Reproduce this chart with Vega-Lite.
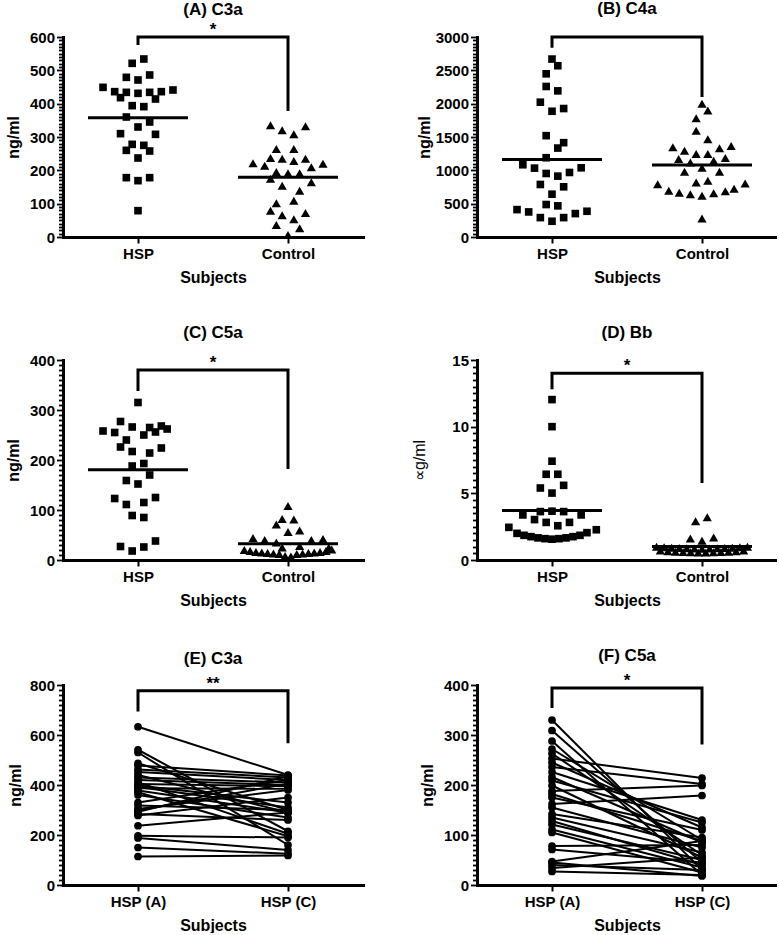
{
  "$schema": "https://vega.github.io/schema/vega-lite/v6.json",
  "padding": {"left": 5, "top": 0, "right": 0, "bottom": 0},
  "columns": 2,
  "spacing": {"row": 39, "column": 48},
  "config": {
    "font": "Liberation Sans",
    "view": {"stroke": null},
    "title": {"font": "Liberation Sans", "fontSize": 17, "fontWeight": "bold", "color": "black", "anchor": "middle", "frame": "group"},
    "axis": {"grid": false, "domainColor": "black", "domainWidth": 3, "domainCap": "square", "tickColor": "black", "tickWidth": 2, "labelColor": "black", "labelFont": "Liberation Sans", "labelFontWeight": "bold", "labelFontSize": 15, "titleFont": "Liberation Sans", "titleFontWeight": "bold", "titleFontSize": 16, "titleColor": "black"},
    "axisX": {"labelAngle": 0, "tickSize": 6, "labelPadding": 3, "titlePadding": 8},
    "axisY": {"labelOverlap": false, "labelPadding": 2, "titleFontSize": 16, "titleBaseline": "middle", "tickWidth": 1.8}
  },
  "concat": [
    {
      "width": 300, "height": 200,
      "title": {"text": "(A) C3a", "offset": 2},
      "data": {"values": [
        {"group":"HSP","value":534,"jit":1},{"group":"HSP","value":521,"jit":-1},{"group":"HSP","value":479,"jit":-2},{"group":"HSP","value":486,"jit":2},{"group":"HSP","value":471,"jit":0},{"group":"HSP","value":449,"jit":-6},{"group":"HSP","value":436,"jit":-4},{"group":"HSP","value":434,"jit":-2},{"group":"HSP","value":431,"jit":0},{"group":"HSP","value":434,"jit":2},{"group":"HSP","value":436,"jit":4},{"group":"HSP","value":441,"jit":6},{"group":"HSP","value":418,"jit":-3},{"group":"HSP","value":414,"jit":3},{"group":"HSP","value":394,"jit":-1},{"group":"HSP","value":391,"jit":1},{"group":"HSP","value":360,"jit":-2},{"group":"HSP","value":345,"jit":2},{"group":"HSP","value":330,"jit":0},{"group":"HSP","value":310,"jit":-3},{"group":"HSP","value":308,"jit":3},{"group":"HSP","value":278,"jit":-1},{"group":"HSP","value":275,"jit":1},{"group":"HSP","value":260,"jit":-2},{"group":"HSP","value":258,"jit":2},{"group":"HSP","value":237,"jit":0},{"group":"HSP","value":178,"jit":-2},{"group":"HSP","value":178,"jit":2},{"group":"HSP","value":169,"jit":0},{"group":"HSP","value":79,"jit":0},
        {"group":"Control","value":335,"jit":-3},{"group":"Control","value":332,"jit":3},{"group":"Control","value":320,"jit":-1},{"group":"Control","value":308,"jit":1},{"group":"Control","value":264,"jit":-2},{"group":"Control","value":264,"jit":1},{"group":"Control","value":237,"jit":-3},{"group":"Control","value":235,"jit":-1},{"group":"Control","value":228,"jit":1},{"group":"Control","value":235,"jit":3},{"group":"Control","value":221,"jit":-6},{"group":"Control","value":214,"jit":-4},{"group":"Control","value":209,"jit":4},{"group":"Control","value":220,"jit":6},{"group":"Control","value":195,"jit":-2},{"group":"Control","value":191,"jit":0},{"group":"Control","value":191,"jit":2},{"group":"Control","value":175,"jit":-3},{"group":"Control","value":164,"jit":4},{"group":"Control","value":154,"jit":-1},{"group":"Control","value":139,"jit":2},{"group":"Control","value":109,"jit":1},{"group":"Control","value":101,"jit":-2},{"group":"Control","value":79,"jit":-3},{"group":"Control","value":72,"jit":3},{"group":"Control","value":65,"jit":-1},{"group":"Control","value":53,"jit":1},{"group":"Control","value":36,"jit":-2},{"group":"Control","value":26,"jit":2},{"group":"Control","value":6,"jit":0}
      ]},
      "layer": [
        {
          "mark": {"type": "point", "filled": true, "opacity": 1, "color": "black"},
          "encoding": {
            "x": {"field": "group", "type": "nominal", "scale": {"type": "point", "domain": ["HSP", "Control"], "padding": 0.5}, "axis": {"title": "Subjects"}},
            "xOffset": {"field": "jit", "type": "quantitative", "scale": {"domain": [-10, 10], "range": [-58.3, 58.3]}},
            "y": {"field": "value", "type": "quantitative", "scale": {"domain": [0, 600], "nice": false}, "axis": {"title": "ng/ml", "tickCount": 60, "labelExpr": "datum.value % 100 === 0 ? format(datum.value, 'd') : ''", "tickSize": {"condition": {"test": "datum.value % 100 === 0", "value": 6.5}, "value": 4.5}, "titleX": -50}},
            "shape": {"field": "group", "type": "nominal", "scale": {"domain": ["HSP", "Control"], "range": ["square", "triangle-up"]}, "legend": null},
            "size": {"field": "group", "type": "nominal", "scale": {"domain": ["HSP", "Control"], "range": [58, 85]}, "legend": null}
          }
        },
        {
          "mark": {"type": "tick", "orient": "horizontal", "size": 100, "thickness": 3, "color": "black"},
          "encoding": {"x": {"field": "group", "type": "nominal"}, "y": {"field": "value", "aggregate": "mean", "type": "quantitative", "title": "ng/ml"}}
        },
        {
          "data": {"values": [{"group":"HSP","value":576,"k":1},{"group":"HSP","value":600,"k":2},{"group":"Control","value":600,"k":3},{"group":"Control","value":378,"k":4}]},
          "mark": {"type": "line", "color": "black", "strokeWidth": 3, "strokeJoin": "miter"},
          "encoding": {"x": {"field": "group", "type": "nominal"}, "y": {"field": "value", "type": "quantitative", "title": "ng/ml"}, "order": {"field": "k"}}
        },
        {
          "data": {"values": [{"group":"HSP","value":600,"label":"*"}]},
          "mark": {"type": "text", "dx": 75, "dy": -2, "baseline": "alphabetic", "fontSize": 17, "fontWeight": "bold", "color": "black"},
          "encoding": {"x": {"field": "group", "type": "nominal"}, "y": {"field": "value", "type": "quantitative", "title": "ng/ml"}, "text": {"field": "label"}}
        }
      ]
    },
    {
      "width": 300, "height": 200,
      "title": {"text": "(B) C4a", "offset": 12},
      "data": {"values": [
        {"group":"HSP","value":2669,"jit":0},{"group":"HSP","value":2569,"jit":1},{"group":"HSP","value":2448,"jit":-1},{"group":"HSP","value":2258,"jit":-1},{"group":"HSP","value":2192,"jit":1},{"group":"HSP","value":2022,"jit":-2},{"group":"HSP","value":1927,"jit":2},{"group":"HSP","value":1886,"jit":0},{"group":"HSP","value":1520,"jit":-1},{"group":"HSP","value":1415,"jit":2},{"group":"HSP","value":1334,"jit":1},{"group":"HSP","value":1189,"jit":-1},{"group":"HSP","value":1084,"jit":-5},{"group":"HSP","value":1033,"jit":-3},{"group":"HSP","value":953,"jit":-1},{"group":"HSP","value":913,"jit":1},{"group":"HSP","value":968,"jit":3},{"group":"HSP","value":1038,"jit":5},{"group":"HSP","value":788,"jit":-2},{"group":"HSP","value":753,"jit":2},{"group":"HSP","value":642,"jit":0},{"group":"HSP","value":487,"jit":-1},{"group":"HSP","value":467,"jit":1},{"group":"HSP","value":411,"jit":-6},{"group":"HSP","value":376,"jit":-4},{"group":"HSP","value":291,"jit":-2},{"group":"HSP","value":236,"jit":0},{"group":"HSP","value":291,"jit":2},{"group":"HSP","value":351,"jit":4},{"group":"HSP","value":386,"jit":6},
        {"group":"Control","value":1997,"jit":0},{"group":"Control","value":1896,"jit":1},{"group":"Control","value":1781,"jit":-1},{"group":"Control","value":1595,"jit":-1},{"group":"Control","value":1465,"jit":1},{"group":"Control","value":1345,"jit":-5},{"group":"Control","value":1294,"jit":-3},{"group":"Control","value":1244,"jit":-1},{"group":"Control","value":1244,"jit":1},{"group":"Control","value":1330,"jit":3},{"group":"Control","value":1365,"jit":5},{"group":"Control","value":1169,"jit":-4},{"group":"Control","value":1119,"jit":-2},{"group":"Control","value":1144,"jit":2},{"group":"Control","value":1184,"jit":4},{"group":"Control","value":1038,"jit":0},{"group":"Control","value":978,"jit":-3},{"group":"Control","value":978,"jit":3},{"group":"Control","value":818,"jit":-1},{"group":"Control","value":843,"jit":1},{"group":"Control","value":793,"jit":-7.6},{"group":"Control","value":803,"jit":7.4},{"group":"Control","value":692,"jit":-5.7},{"group":"Control","value":662,"jit":-3.9},{"group":"Control","value":642,"jit":-2},{"group":"Control","value":617,"jit":0},{"group":"Control","value":657,"jit":2},{"group":"Control","value":687,"jit":4},{"group":"Control","value":722,"jit":5.5},{"group":"Control","value":276,"jit":0}
      ]},
      "layer": [
        {
          "mark": {"type": "point", "filled": true, "opacity": 1, "color": "black"},
          "encoding": {
            "x": {"field": "group", "type": "nominal", "scale": {"type": "point", "domain": ["HSP", "Control"], "padding": 0.5}, "axis": {"title": "Subjects"}},
            "xOffset": {"field": "jit", "type": "quantitative", "scale": {"domain": [-10, 10], "range": [-58.3, 58.3]}},
            "y": {"field": "value", "type": "quantitative", "scale": {"domain": [0, 3000], "nice": false}, "axis": {"title": "ng/ml", "tickCount": 60, "labelExpr": "datum.value % 500 === 0 ? format(datum.value, 'd') : ''", "tickSize": {"condition": {"test": "datum.value % 500 === 0", "value": 6.5}, "value": 4.5}, "titleX": -53}},
            "shape": {"field": "group", "type": "nominal", "scale": {"domain": ["HSP", "Control"], "range": ["square", "triangle-up"]}, "legend": null},
            "size": {"field": "group", "type": "nominal", "scale": {"domain": ["HSP", "Control"], "range": [58, 85]}, "legend": null}
          }
        },
        {
          "mark": {"type": "tick", "orient": "horizontal", "size": 100, "thickness": 3, "color": "black"},
          "encoding": {"x": {"field": "group", "type": "nominal"}, "y": {"field": "value", "aggregate": "mean", "type": "quantitative", "title": "ng/ml"}}
        },
        {
          "data": {"values": [{"group":"HSP","value":2839,"k":1},{"group":"HSP","value":3000,"k":2},{"group":"Control","value":3000,"k":3},{"group":"Control","value":2100,"k":4}]},
          "mark": {"type": "line", "color": "black", "strokeWidth": 3, "strokeJoin": "miter"},
          "encoding": {"x": {"field": "group", "type": "nominal"}, "y": {"field": "value", "type": "quantitative", "title": "ng/ml"}, "order": {"field": "k"}}
        }
      ]
    },
    {
      "width": 300, "height": 200,
      "title": {"text": "(C) C5a", "offset": 11},
      "data": {"values": [
        {"group":"HSP","value":315,"jit":0},{"group":"HSP","value":277,"jit":-3},{"group":"HSP","value":266,"jit":-1},{"group":"HSP","value":258,"jit":-6},{"group":"HSP","value":255,"jit":-4},{"group":"HSP","value":265,"jit":2},{"group":"HSP","value":268,"jit":4},{"group":"HSP","value":262,"jit":5},{"group":"HSP","value":256,"jit":3},{"group":"HSP","value":250,"jit":1},{"group":"HSP","value":240,"jit":-2},{"group":"HSP","value":226,"jit":-3},{"group":"HSP","value":217,"jit":-1},{"group":"HSP","value":214,"jit":2},{"group":"HSP","value":224,"jit":4},{"group":"HSP","value":188,"jit":-1},{"group":"HSP","value":193,"jit":1},{"group":"HSP","value":170,"jit":2},{"group":"HSP","value":159,"jit":-2},{"group":"HSP","value":152,"jit":0},{"group":"HSP","value":123,"jit":-4},{"group":"HSP","value":111,"jit":-2},{"group":"HSP","value":115,"jit":1},{"group":"HSP","value":125,"jit":3},{"group":"HSP","value":89,"jit":-1},{"group":"HSP","value":85,"jit":1},{"group":"HSP","value":27,"jit":-3},{"group":"HSP","value":18,"jit":-1},{"group":"HSP","value":26,"jit":1},{"group":"HSP","value":38,"jit":3},
        {"group":"Control","value":108,"jit":0},{"group":"Control","value":82,"jit":-1},{"group":"Control","value":81,"jit":1},{"group":"Control","value":71,"jit":-2},{"group":"Control","value":56,"jit":0},{"group":"Control","value":59,"jit":2},{"group":"Control","value":44,"jit":-6},{"group":"Control","value":40,"jit":-4},{"group":"Control","value":35,"jit":-2},{"group":"Control","value":40,"jit":4},{"group":"Control","value":42,"jit":6},{"group":"Control","value":25,"jit":-1},{"group":"Control","value":28,"jit":2},{"group":"Control","value":25,"jit":7},
        {"group":"Control","value":20,"jit":-7.5},{"group":"Control","value":18,"jit":-6.5},{"group":"Control","value":16,"jit":-5.5},{"group":"Control","value":15,"jit":-4.5},{"group":"Control","value":14,"jit":-3.5},{"group":"Control","value":13,"jit":-2.5},{"group":"Control","value":12,"jit":-1.5},{"group":"Control","value":8,"jit":-0.5},{"group":"Control","value":7,"jit":0.5},{"group":"Control","value":12,"jit":1.5},{"group":"Control","value":13,"jit":2.5},{"group":"Control","value":14,"jit":3.5},{"group":"Control","value":15,"jit":4.5},{"group":"Control","value":16,"jit":5.5},{"group":"Control","value":18,"jit":6.5},{"group":"Control","value":21,"jit":7.5}
      ]},
      "layer": [
        {
          "mark": {"type": "point", "filled": true, "opacity": 1, "color": "black"},
          "encoding": {
            "x": {"field": "group", "type": "nominal", "scale": {"type": "point", "domain": ["HSP", "Control"], "padding": 0.5}, "axis": {"title": "Subjects"}},
            "xOffset": {"field": "jit", "type": "quantitative", "scale": {"domain": [-10, 10], "range": [-58.3, 58.3]}},
            "y": {"field": "value", "type": "quantitative", "scale": {"domain": [0, 400], "nice": false}, "axis": {"title": "ng/ml", "tickCount": 40, "labelExpr": "datum.value % 100 === 0 ? format(datum.value, 'd') : ''", "tickSize": {"condition": {"test": "datum.value % 100 === 0", "value": 6.5}, "value": 4.5}, "titleX": -50}},
            "shape": {"field": "group", "type": "nominal", "scale": {"domain": ["HSP", "Control"], "range": ["square", "triangle-up"]}, "legend": null},
            "size": {"field": "group", "type": "nominal", "scale": {"domain": ["HSP", "Control"], "range": [58, 85]}, "legend": null}
          }
        },
        {
          "mark": {"type": "tick", "orient": "horizontal", "size": 100, "thickness": 3, "color": "black"},
          "encoding": {"x": {"field": "group", "type": "nominal"}, "y": {"field": "value", "aggregate": "mean", "type": "quantitative", "title": "ng/ml"}}
        },
        {
          "data": {"values": [{"group":"HSP","value":338,"k":1},{"group":"HSP","value":380,"k":2},{"group":"Control","value":380,"k":3},{"group":"Control","value":182,"k":4}]},
          "mark": {"type": "line", "color": "black", "strokeWidth": 3, "strokeJoin": "miter"},
          "encoding": {"x": {"field": "group", "type": "nominal"}, "y": {"field": "value", "type": "quantitative", "title": "ng/ml"}, "order": {"field": "k"}}
        },
        {
          "data": {"values": [{"group":"HSP","value":380,"label":"*"}]},
          "mark": {"type": "text", "dx": 75, "dy": -2, "baseline": "alphabetic", "fontSize": 17, "fontWeight": "bold", "color": "black"},
          "encoding": {"x": {"field": "group", "type": "nominal"}, "y": {"field": "value", "type": "quantitative", "title": "ng/ml"}, "text": {"field": "label"}}
        }
      ]
    },
    {
      "width": 300, "height": 200,
      "title": {"text": "(D) Bb", "offset": 11},
      "data": {"values": [
        {"group":"HSP","value":12.03,"jit":0},{"group":"HSP","value":10.0,"jit":0},{"group":"HSP","value":7.41,"jit":0},{"group":"HSP","value":6.43,"jit":-1},{"group":"HSP","value":6.43,"jit":1},{"group":"HSP","value":5.4,"jit":-2},{"group":"HSP","value":5.6,"jit":2},{"group":"HSP","value":5.02,"jit":0},{"group":"HSP","value":3.63,"jit":-2},{"group":"HSP","value":3.66,"jit":0},{"group":"HSP","value":3.63,"jit":2},{"group":"HSP","value":3.38,"jit":-5},{"group":"HSP","value":3.38,"jit":5},{"group":"HSP","value":3.03,"jit":-3},{"group":"HSP","value":2.82,"jit":-1},{"group":"HSP","value":2.82,"jit":3},{"group":"HSP","value":2.57,"jit":1},{"group":"HSP","value":2.45,"jit":-7.4},{"group":"HSP","value":2.27,"jit":7.6},{"group":"HSP","value":2.0,"jit":-6},{"group":"HSP","value":1.85,"jit":-4.8},{"group":"HSP","value":1.75,"jit":-3.6},{"group":"HSP","value":1.66,"jit":-2.4},{"group":"HSP","value":1.6,"jit":-1.2},{"group":"HSP","value":1.56,"jit":0},{"group":"HSP","value":1.6,"jit":1.2},{"group":"HSP","value":1.66,"jit":2.4},{"group":"HSP","value":1.75,"jit":3.6},{"group":"HSP","value":1.85,"jit":4.8},{"group":"HSP","value":2.05,"jit":6},
        {"group":"Control","value":2.9,"jit":-1.1},{"group":"Control","value":3.2,"jit":0.9},{"group":"Control","value":1.61,"jit":-2},{"group":"Control","value":1.69,"jit":2},{"group":"Control","value":1.44,"jit":0},
        {"group":"Control","value":1.0,"jit":-7.8},{"group":"Control","value":0.95,"jit":-6.5},{"group":"Control","value":0.92,"jit":-5.2},{"group":"Control","value":0.9,"jit":-3.9},{"group":"Control","value":0.88,"jit":-2.6},{"group":"Control","value":0.86,"jit":-1.3},{"group":"Control","value":0.85,"jit":0},{"group":"Control","value":0.86,"jit":1.3},{"group":"Control","value":0.88,"jit":2.6},{"group":"Control","value":0.9,"jit":3.9},{"group":"Control","value":0.92,"jit":5.2},{"group":"Control","value":0.95,"jit":6.5},{"group":"Control","value":1.0,"jit":7.8},
        {"group":"Control","value":0.72,"jit":-7.15},{"group":"Control","value":0.66,"jit":-5.85},{"group":"Control","value":0.62,"jit":-4.55},{"group":"Control","value":0.6,"jit":-3.25},{"group":"Control","value":0.58,"jit":-1.95},{"group":"Control","value":0.56,"jit":-0.65},{"group":"Control","value":0.56,"jit":0.65},{"group":"Control","value":0.58,"jit":1.95},{"group":"Control","value":0.6,"jit":3.25},{"group":"Control","value":0.62,"jit":4.55},{"group":"Control","value":0.66,"jit":5.85},{"group":"Control","value":0.72,"jit":7.15}
      ]},
      "layer": [
        {
          "mark": {"type": "point", "filled": true, "opacity": 1, "color": "black"},
          "encoding": {
            "x": {"field": "group", "type": "nominal", "scale": {"type": "point", "domain": ["HSP", "Control"], "padding": 0.5}, "axis": {"title": "Subjects"}},
            "xOffset": {"field": "jit", "type": "quantitative", "scale": {"domain": [-10, 10], "range": [-58.3, 58.3]}},
            "y": {"field": "value", "type": "quantitative", "scale": {"domain": [0, 15], "nice": false}, "axis": {"title": "∝g/ml", "titleFontWeight": "normal", "tickCount": 30, "labelExpr": "datum.value % 5 === 0 ? format(datum.value, 'd') : ''", "tickSize": {"condition": {"test": "datum.value % 5 === 0", "value": 6.5}, "value": 4.5}, "titleX": -58}},
            "shape": {"field": "group", "type": "nominal", "scale": {"domain": ["HSP", "Control"], "range": ["square", "triangle-up"]}, "legend": null},
            "size": {"field": "group", "type": "nominal", "scale": {"domain": ["HSP", "Control"], "range": [58, 85]}, "legend": null}
          }
        },
        {
          "mark": {"type": "tick", "orient": "horizontal", "size": 100, "thickness": 3, "color": "black"},
          "encoding": {"x": {"field": "group", "type": "nominal"}, "y": {"field": "value", "aggregate": "mean", "type": "quantitative", "title": "∝g/ml"}}
        },
        {
          "data": {"values": [{"group":"HSP","value":12.8,"k":1},{"group":"HSP","value":14.0,"k":2},{"group":"Control","value":14.0,"k":3},{"group":"Control","value":5.78,"k":4}]},
          "mark": {"type": "line", "color": "black", "strokeWidth": 3, "strokeJoin": "miter"},
          "encoding": {"x": {"field": "group", "type": "nominal"}, "y": {"field": "value", "type": "quantitative", "title": "∝g/ml"}, "order": {"field": "k"}}
        },
        {
          "data": {"values": [{"group":"HSP","value":14.0,"label":"*"}]},
          "mark": {"type": "text", "dx": 75, "dy": -2, "baseline": "alphabetic", "fontSize": 17, "fontWeight": "bold", "color": "black"},
          "encoding": {"x": {"field": "group", "type": "nominal"}, "y": {"field": "value", "type": "quantitative", "title": "∝g/ml"}, "text": {"field": "label"}}
        }
      ]
    },
    {
      "width": 300, "height": 200,
      "title": {"text": "(E) C3a", "offset": 7},
      "data": {"values": [
        {"id":1,"group":"HSP (A)","value":633},{"id":1,"group":"HSP (C)","value":440},
        {"id":2,"group":"HSP (A)","value":541},{"id":2,"group":"HSP (C)","value":215},
        {"id":3,"group":"HSP (A)","value":530},{"id":3,"group":"HSP (C)","value":160},
        {"id":4,"group":"HSP (A)","value":487},{"id":4,"group":"HSP (C)","value":300},
        {"id":5,"group":"HSP (A)","value":478},{"id":5,"group":"HSP (C)","value":438},
        {"id":6,"group":"HSP (A)","value":462},{"id":6,"group":"HSP (C)","value":430},
        {"id":7,"group":"HSP (A)","value":452},{"id":7,"group":"HSP (C)","value":420},
        {"id":8,"group":"HSP (A)","value":440},{"id":8,"group":"HSP (C)","value":290},
        {"id":9,"group":"HSP (A)","value":430},{"id":9,"group":"HSP (C)","value":410},
        {"id":10,"group":"HSP (A)","value":420},{"id":10,"group":"HSP (C)","value":400},
        {"id":11,"group":"HSP (A)","value":411},{"id":11,"group":"HSP (C)","value":205},
        {"id":12,"group":"HSP (A)","value":404},{"id":12,"group":"HSP (C)","value":395},
        {"id":13,"group":"HSP (A)","value":398},{"id":13,"group":"HSP (C)","value":330},
        {"id":14,"group":"HSP (A)","value":392},{"id":14,"group":"HSP (C)","value":310},
        {"id":15,"group":"HSP (A)","value":387},{"id":15,"group":"HSP (C)","value":385},
        {"id":16,"group":"HSP (A)","value":378},{"id":16,"group":"HSP (C)","value":290},
        {"id":17,"group":"HSP (A)","value":371},{"id":17,"group":"HSP (C)","value":195},
        {"id":18,"group":"HSP (A)","value":360},{"id":18,"group":"HSP (C)","value":270},
        {"id":19,"group":"HSP (A)","value":330},{"id":19,"group":"HSP (C)","value":420},
        {"id":20,"group":"HSP (A)","value":318},{"id":20,"group":"HSP (C)","value":300},
        {"id":21,"group":"HSP (A)","value":304},{"id":21,"group":"HSP (C)","value":380},
        {"id":22,"group":"HSP (A)","value":298},{"id":22,"group":"HSP (C)","value":405},
        {"id":23,"group":"HSP (A)","value":293},{"id":23,"group":"HSP (C)","value":435},
        {"id":24,"group":"HSP (A)","value":284},{"id":24,"group":"HSP (C)","value":260},
        {"id":25,"group":"HSP (A)","value":278},{"id":25,"group":"HSP (C)","value":350},
        {"id":26,"group":"HSP (A)","value":237},{"id":26,"group":"HSP (C)","value":290},
        {"id":27,"group":"HSP (A)","value":197},{"id":27,"group":"HSP (C)","value":190},
        {"id":28,"group":"HSP (A)","value":188},{"id":28,"group":"HSP (C)","value":140},
        {"id":29,"group":"HSP (A)","value":150},{"id":29,"group":"HSP (C)","value":125},
        {"id":30,"group":"HSP (A)","value":114},{"id":30,"group":"HSP (C)","value":118}
      ]},
      "layer": [
        {
          "mark": {"type": "line", "color": "black", "strokeWidth": 2},
          "encoding": {
            "x": {"field": "group", "type": "nominal", "scale": {"type": "point", "domain": ["HSP (A)", "HSP (C)"], "padding": 0.5}, "axis": {"title": "Subjects"}},
            "y": {"field": "value", "type": "quantitative", "scale": {"domain": [0, 800], "nice": false}, "axis": {"title": "ng/ml", "tickCount": 40, "labelExpr": "datum.value % 200 === 0 ? format(datum.value, 'd') : ''", "tickSize": {"condition": {"test": "datum.value % 200 === 0", "value": 6.5}, "value": 4.5}, "titleX": -48}},
            "detail": {"field": "id", "type": "nominal"}
          }
        },
        {
          "mark": {"type": "circle", "color": "black", "opacity": 1, "size": 60},
          "encoding": {"x": {"field": "group", "type": "nominal"}, "y": {"field": "value", "type": "quantitative", "title": "ng/ml"}}
        },
        {
          "data": {"values": [{"group":"HSP (A)","value":694,"k":1},{"group":"HSP (A)","value":777,"k":2},{"group":"HSP (C)","value":777,"k":3},{"group":"HSP (C)","value":567,"k":4}]},
          "mark": {"type": "line", "color": "black", "strokeWidth": 3, "strokeJoin": "miter"},
          "encoding": {"x": {"field": "group", "type": "nominal"}, "y": {"field": "value", "type": "quantitative", "title": "ng/ml"}, "order": {"field": "k"}}
        },
        {
          "data": {"values": [{"group":"HSP (A)","value":777,"label":"**"}]},
          "mark": {"type": "text", "dx": 75, "dy": -2, "baseline": "alphabetic", "fontSize": 17, "fontWeight": "bold", "color": "black"},
          "encoding": {"x": {"field": "group", "type": "nominal"}, "y": {"field": "value", "type": "quantitative", "title": "ng/ml"}, "text": {"field": "label"}}
        }
      ]
    },
    {
      "width": 300, "height": 200,
      "title": {"text": "(F) C5a", "offset": 7},
      "data": {"values": [
        {"id":1,"group":"HSP (A)","value":330},{"id":1,"group":"HSP (C)","value":30},
        {"id":2,"group":"HSP (A)","value":309},{"id":2,"group":"HSP (C)","value":45},
        {"id":3,"group":"HSP (A)","value":288},{"id":3,"group":"HSP (C)","value":20},
        {"id":4,"group":"HSP (A)","value":272},{"id":4,"group":"HSP (C)","value":90},
        {"id":5,"group":"HSP (A)","value":263},{"id":5,"group":"HSP (C)","value":60},
        {"id":6,"group":"HSP (A)","value":253},{"id":6,"group":"HSP (C)","value":214},
        {"id":7,"group":"HSP (A)","value":245},{"id":7,"group":"HSP (C)","value":115},
        {"id":8,"group":"HSP (A)","value":236},{"id":8,"group":"HSP (C)","value":202},
        {"id":9,"group":"HSP (A)","value":226},{"id":9,"group":"HSP (C)","value":130},
        {"id":10,"group":"HSP (A)","value":216},{"id":10,"group":"HSP (C)","value":85},
        {"id":11,"group":"HSP (A)","value":209},{"id":11,"group":"HSP (C)","value":125},
        {"id":12,"group":"HSP (A)","value":199},{"id":12,"group":"HSP (C)","value":55},
        {"id":13,"group":"HSP (A)","value":188},{"id":13,"group":"HSP (C)","value":199},
        {"id":14,"group":"HSP (A)","value":182},{"id":14,"group":"HSP (C)","value":88},
        {"id":15,"group":"HSP (A)","value":175},{"id":15,"group":"HSP (C)","value":110},
        {"id":16,"group":"HSP (A)","value":162},{"id":16,"group":"HSP (C)","value":179},
        {"id":17,"group":"HSP (A)","value":155},{"id":17,"group":"HSP (C)","value":75},
        {"id":18,"group":"HSP (A)","value":142},{"id":18,"group":"HSP (C)","value":95},
        {"id":19,"group":"HSP (A)","value":135},{"id":19,"group":"HSP (C)","value":65},
        {"id":20,"group":"HSP (A)","value":128},{"id":20,"group":"HSP (C)","value":40},
        {"id":21,"group":"HSP (A)","value":121},{"id":21,"group":"HSP (C)","value":50},
        {"id":22,"group":"HSP (A)","value":111},{"id":22,"group":"HSP (C)","value":35},
        {"id":23,"group":"HSP (A)","value":105},{"id":23,"group":"HSP (C)","value":25},
        {"id":24,"group":"HSP (A)","value":78},{"id":24,"group":"HSP (C)","value":80},
        {"id":25,"group":"HSP (A)","value":71},{"id":25,"group":"HSP (C)","value":45},
        {"id":26,"group":"HSP (A)","value":47},{"id":26,"group":"HSP (C)","value":88},
        {"id":27,"group":"HSP (A)","value":40},{"id":27,"group":"HSP (C)","value":30},
        {"id":28,"group":"HSP (A)","value":34},{"id":28,"group":"HSP (C)","value":55},
        {"id":29,"group":"HSP (A)","value":27},{"id":29,"group":"HSP (C)","value":20},
        {"id":30,"group":"HSP (A)","value":45},{"id":30,"group":"HSP (C)","value":18}
      ]},
      "layer": [
        {
          "mark": {"type": "line", "color": "black", "strokeWidth": 2},
          "encoding": {
            "x": {"field": "group", "type": "nominal", "scale": {"type": "point", "domain": ["HSP (A)", "HSP (C)"], "padding": 0.5}, "axis": {"title": "Subjects"}},
            "y": {"field": "value", "type": "quantitative", "scale": {"domain": [0, 400], "nice": false}, "axis": {"title": "ng/ml", "tickCount": 40, "labelExpr": "datum.value % 100 === 0 ? format(datum.value, 'd') : ''", "tickSize": {"condition": {"test": "datum.value % 100 === 0", "value": 6.5}, "value": 4.5}, "titleX": -50}},
            "detail": {"field": "id", "type": "nominal"}
          }
        },
        {
          "mark": {"type": "circle", "color": "black", "opacity": 1, "size": 60},
          "encoding": {"x": {"field": "group", "type": "nominal"}, "y": {"field": "value", "type": "quantitative", "title": "ng/ml"}}
        },
        {
          "data": {"values": [{"group":"HSP (A)","value":354,"k":1},{"group":"HSP (A)","value":394,"k":2},{"group":"HSP (C)","value":394,"k":3},{"group":"HSP (C)","value":281,"k":4}]},
          "mark": {"type": "line", "color": "black", "strokeWidth": 3, "strokeJoin": "miter"},
          "encoding": {"x": {"field": "group", "type": "nominal"}, "y": {"field": "value", "type": "quantitative", "title": "ng/ml"}, "order": {"field": "k"}}
        },
        {
          "data": {"values": [{"group":"HSP (A)","value":394,"label":"*"}]},
          "mark": {"type": "text", "dx": 75, "dy": -2, "baseline": "alphabetic", "fontSize": 17, "fontWeight": "bold", "color": "black"},
          "encoding": {"x": {"field": "group", "type": "nominal"}, "y": {"field": "value", "type": "quantitative", "title": "ng/ml"}, "text": {"field": "label"}}
        }
      ]
    }
  ]
}
